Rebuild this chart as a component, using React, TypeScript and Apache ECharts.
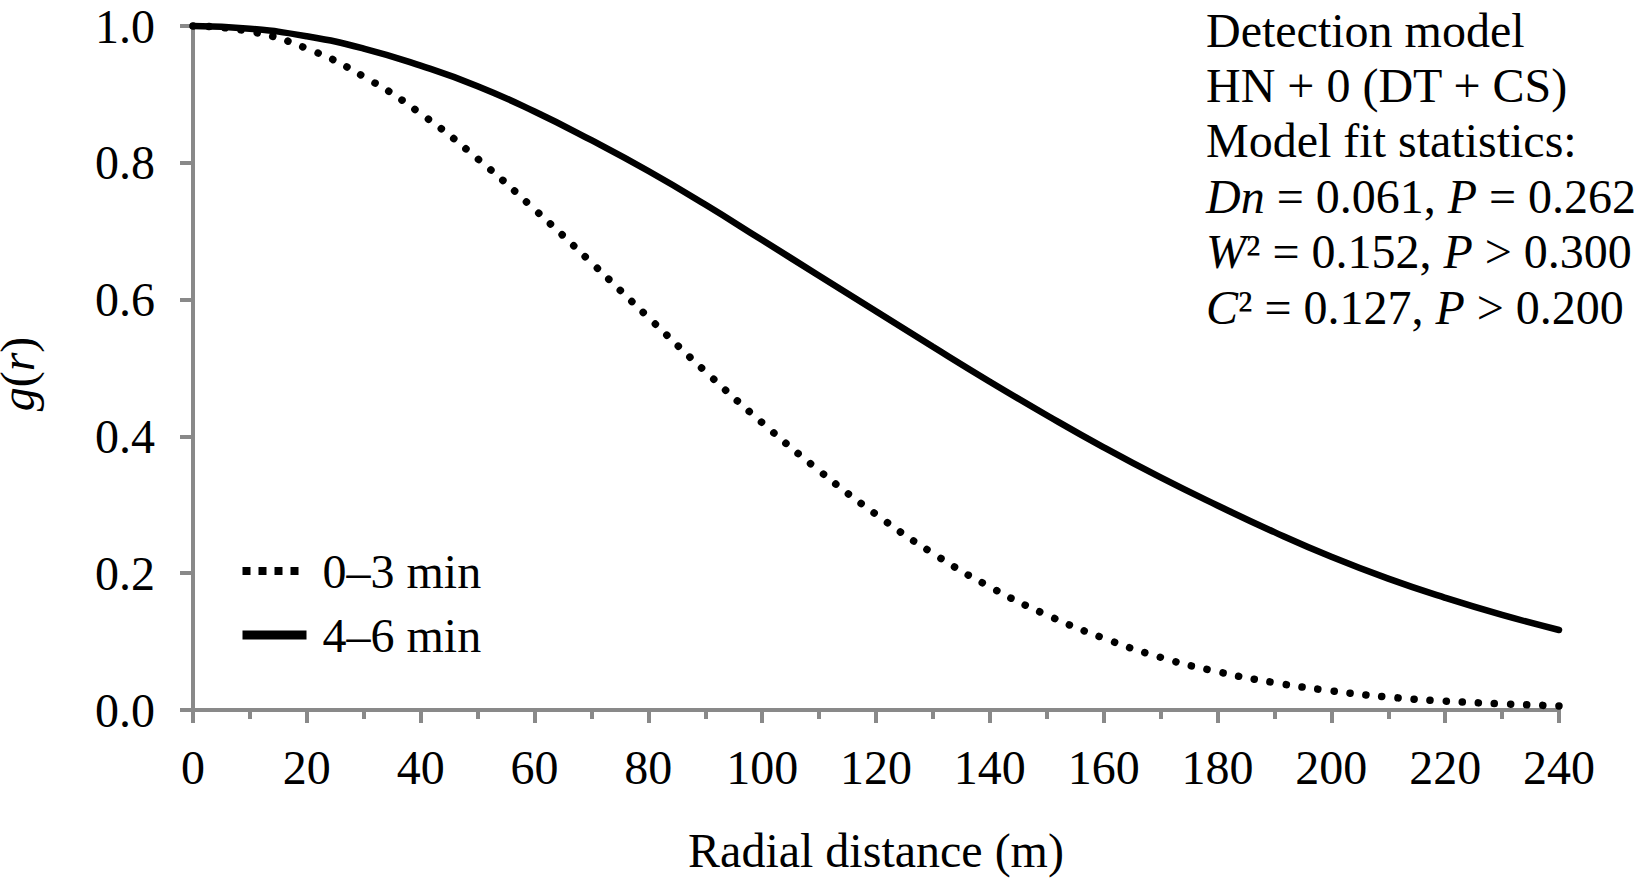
import React, { useEffect, useRef } from "react";
import * as echarts from "echarts";

const FONT = "'Liberation Serif', 'Times New Roman', serif";

// Radial distance (m)
const radialDistance = [0, 10, 20, 30, 40, 50, 60, 70, 80, 90, 100, 110, 120, 130, 140, 150, 160, 170, 180, 190, 200, 210, 220, 230, 240];
// g(r) for 0–3 min (dotted)
const g0to3 = [1.0, 0.992, 0.967, 0.926, 0.872, 0.806, 0.732, 0.654, 0.574, 0.495, 0.42, 0.35, 0.286, 0.229, 0.18, 0.139, 0.105, 0.077, 0.056, 0.04, 0.028, 0.019, 0.013, 0.009, 0.006];
// g(r) for 4–6 min (solid)
const g4to6 = [1.0, 0.996, 0.985, 0.967, 0.942, 0.912, 0.875, 0.833, 0.788, 0.739, 0.687, 0.635, 0.583, 0.531, 0.48, 0.431, 0.384, 0.34, 0.299, 0.26, 0.224, 0.192, 0.164, 0.139, 0.117];

const seriesNames = ["0–3 min", "4–6 min"];
const xAxisName = "Radial distance (m)";
const yAxisName = "{i|g}{n|(}{i|r}{n|)}";
const xRange = { min: 0, max: 240, interval: 20 };
const yRange = { min: 0, max: 1, interval: 0.2 };

const annotationLines = [
  "{n|Detection model}",
  "{n|HN + 0 (DT + CS)}",
  "{n|Model fit statistics:}",
  "{i|Dn}{n| = 0.061, }{i|P}{n| = 0.262}",
  "{i|W}{n|² = 0.152, }{i|P}{n| > 0.300}",
  "{i|C}{n|² = 0.127, }{i|P}{n| > 0.200}",
];

const AXIS_COLOR = "#898989";
const FS = 48;

export default function App() {
  const ref = useRef<HTMLDivElement>(null);
  useEffect(() => {
    document.body.style.margin = "0";
    if (!ref.current) return;
    const chart = echarts.init(ref.current, undefined, { renderer: "svg" });
    const rich = {
      i: { fontStyle: "italic", fontFamily: FONT, fontSize: FS, fill: "#000", color: "#000" },
      n: { fontStyle: "normal", fontFamily: FONT, fontSize: FS, fill: "#000", color: "#000" },
    };
    const option: any = {
      animation: false,
      backgroundColor: "#fff",
      grid: { left: 193, right: 90, top: 26, bottom: 169, containLabel: false, outerBoundsMode: "none" },
      xAxis: {
        type: "value",
        min: xRange.min,
        max: xRange.max,
        interval: xRange.interval,
        name: xAxisName,
        nameLocation: "middle",
        nameGap: 116,
        nameTextStyle: { fontFamily: FONT, fontSize: FS, color: "#000" },
        axisLine: { show: true, lineStyle: { color: AXIS_COLOR, width: 4 } },
        axisTick: { show: true, length: 13, lineStyle: { color: AXIS_COLOR, width: 4 } },
        minorTick: { show: true, splitNumber: 2, length: 9, lineStyle: { color: AXIS_COLOR, width: 4 } },
        axisLabel: { margin: 33, fontFamily: FONT, fontSize: FS, color: "#000" },
        splitLine: { show: false },
        minorSplitLine: { show: false },
      },
      yAxis: {
        type: "value",
        min: yRange.min,
        max: yRange.max,
        interval: yRange.interval,
        name: yAxisName,
        nameLocation: "middle",
        nameGap: 152,
        nameTextStyle: { fontFamily: FONT, fontSize: FS, color: "#000", rich, padding: [0, 12, 0, 0] },
        axisLine: { show: true, lineStyle: { color: AXIS_COLOR, width: 4 } },
        axisTick: { show: true, length: 13, lineStyle: { color: AXIS_COLOR, width: 4 } },
        axisLabel: {
          margin: 38,
          fontFamily: FONT,
          fontSize: FS,
          color: "#000",
          formatter: (v: number) => v.toFixed(1),
        },
        splitLine: { show: false },
      },
      legend: {
        orient: "vertical",
        left: 238,
        top: 547,
        padding: 0,
        itemWidth: 64,
        itemHeight: 20,
        itemGap: 16,
        selectedMode: false,
        textStyle: { fontFamily: FONT, fontSize: FS, color: "#000", lineHeight: 48, padding: [0, 0, 0, 11] },
        data: [
          {
            name: seriesNames[0],
            itemStyle: { opacity: 0 },
            lineStyle: { width: 8, type: [8, 8], cap: "butt", color: "#000" },
          },
          {
            name: seriesNames[1],
            itemStyle: { opacity: 0 },
            lineStyle: { width: 9, type: "solid", cap: "butt", color: "#000" },
          },
        ],
      },
      series: [
        {
          name: seriesNames[0],
          type: "line",
          data: radialDistance.map((r, i) => [r, g0to3[i]]),
          smooth: true,
          symbol: "none",
          clip: false,
          color: "#000",
          lineStyle: { color: "#000", width: 7.5, type: [0.1, 16], cap: "round" },
        },
        {
          name: seriesNames[1],
          type: "line",
          data: radialDistance.map((r, i) => [r, g4to6[i]]),
          smooth: true,
          symbol: "none",
          clip: false,
          color: "#000",
          lineStyle: { color: "#000", width: 6.5, type: "solid", cap: "round" },
        },
      ],
      graphic: annotationLines.map((t, i) => ({
        type: "text",
        x: 1206,
        y: 30 + i * 55.4,
        style: {
          text: t,
          fontFamily: FONT,
          fontSize: FS,
          fill: "#000",
          textAlign: "left",
          textVerticalAlign: "middle",
          rich,
        },
      })),
    };
    chart.setOption(option);
    return () => chart.dispose();
  }, []);
  return <div ref={ref} style={{ width: "1649px", height: "879px" }} />;
}
